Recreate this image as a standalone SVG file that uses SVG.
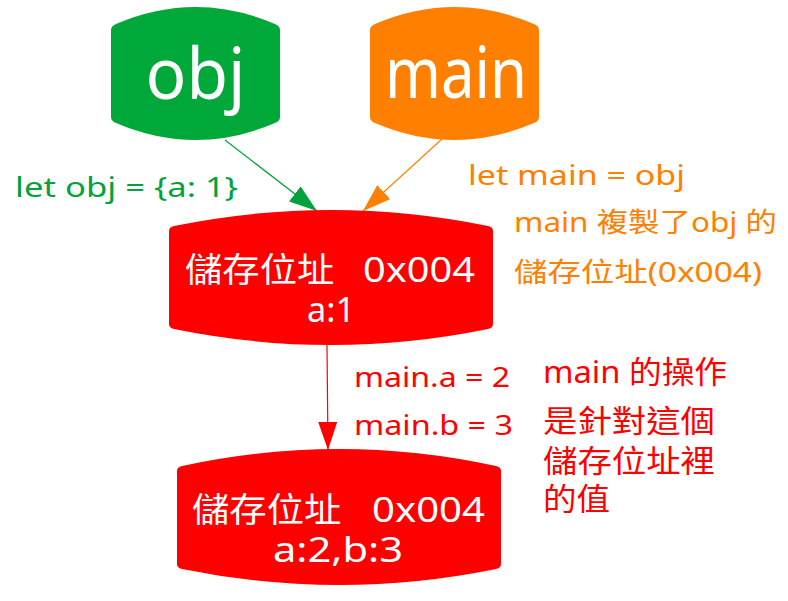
<svg xmlns="http://www.w3.org/2000/svg" width="788" height="601" viewBox="0 0 788 601">
<style>
.t{font-family:"Noto Sans","Noto Sans CJK TC",sans-serif;}
.w{fill:#ffffff;}
.g{fill:#00a33b;}
.o{fill:#ff8000;}
.r{fill:#ff0000;}
.e{fill:none;stroke-width:1.2;}
</style>
<defs>
<marker id="ag" markerUnits="userSpaceOnUse" markerWidth="30" markerHeight="20" refX="28" refY="9.5" orient="auto"><path d="M0,0 L28,9.5 L0,19 Z" fill="#00a33b"/></marker>
<marker id="ao" markerUnits="userSpaceOnUse" markerWidth="30" markerHeight="20" refX="28" refY="9.5" orient="auto"><path d="M0,0 L28,9.5 L0,19 Z" fill="#ff8000"/></marker>
<marker id="ar" markerUnits="userSpaceOnUse" markerWidth="30" markerHeight="20" refX="28" refY="9.5" orient="auto"><path d="M0,0 L28,9.5 L0,19 Z" fill="#ff0000"/></marker>
</defs>
<rect width="788" height="601" fill="#ffffff"/>
<g id="connectors">
<line class="e" x1="225" y1="140" x2="317" y2="211" stroke="#00a33b" marker-end="url(#ag)"/>
<line class="e" x1="442" y1="139" x2="363" y2="211" stroke="#ff8000" marker-end="url(#ao)"/>
<line class="e" x1="327" y1="345" x2="328" y2="450" stroke="#ff0000" marker-end="url(#ar)"/>
</g>
<g id="node-obj">
<path d="M111,30 Q111,26 116,24 Q195.5,-10 275,24 Q280,26 280,30 L280,117 Q280,121 275,123 Q195.5,157 116,123 Q111,121 111,117 Z" fill="#00a83a"/>
<text class="t w" x="195.5" y="99" font-size="72" text-anchor="middle" textLength="100" lengthAdjust="spacingAndGlyphs">obj</text>
</g>
<g id="node-main">
<path d="M370,30 Q370,26 375,24 Q454.5,-10 534,24 Q539,26 539,30 L539,117 Q539,121 534,123 Q454.5,157 375,123 Q370,121 370,117 Z" fill="#ff8000"/>
<text class="t w" x="456" y="98" font-size="72" text-anchor="middle" textLength="142" lengthAdjust="spacingAndGlyphs">main</text>
</g>
<g id="node-addr1">
<path d="M169,231 Q169,227 174,226 Q331,194 488,226 Q493,227 493,231 L493,324 Q493,328 488,329 Q331,361 174,329 Q169,328 169,324 Z" fill="#ff0000"/>
<text class="t w" font-size="34"><tspan x="185" y="282" textLength="159" lengthAdjust="spacingAndGlyphs">儲存位址 </tspan><tspan x="363" y="282" textLength="112" lengthAdjust="spacingAndGlyphs">0x004</tspan></text>
<text class="t w" x="331" y="322" font-size="34" text-anchor="middle" textLength="48" lengthAdjust="spacingAndGlyphs">a:1</text>
</g>
<g id="node-addr2">
<path d="M177,471 Q177,467 182,466 Q339,432 496,466 Q501,467 501,471 L501,564 Q501,568 496,569 Q339,601 182,569 Q177,568 177,564 Z" fill="#ff0000"/>
<text class="t w" font-size="34"><tspan x="192" y="522" textLength="159" lengthAdjust="spacingAndGlyphs">儲存位址 </tspan><tspan x="372" y="522" textLength="113" lengthAdjust="spacingAndGlyphs">0x004</tspan></text>
<text class="t w" x="338" y="562" font-size="34" text-anchor="middle" textLength="130" lengthAdjust="spacingAndGlyphs">a:2,b:3</text>
</g>
<g id="labels">
<text class="t g" x="15" y="197" font-size="28" textLength="223" lengthAdjust="spacingAndGlyphs">let obj = {a: 1}</text>
<text class="t o" x="468" y="185" font-size="28" textLength="217" lengthAdjust="spacingAndGlyphs">let main = obj</text>
<text class="t o" x="514" y="232" font-size="27" textLength="263" lengthAdjust="spacingAndGlyphs">main 複製了obj 的</text>
<text class="t o" x="514" y="282" font-size="27" textLength="248" lengthAdjust="spacingAndGlyphs">儲存位址(0x004)</text>
<text class="t r" x="354" y="387" font-size="28" textLength="156" lengthAdjust="spacingAndGlyphs">main.a = 2</text>
<text class="t r" x="354" y="435" font-size="28" textLength="159" lengthAdjust="spacingAndGlyphs">main.b = 3</text>
<text class="t r" x="543" y="383" font-size="31" textLength="184" lengthAdjust="spacingAndGlyphs">main 的操作</text>
<text class="t r" x="543" y="432" font-size="31" textLength="172" lengthAdjust="spacingAndGlyphs">是針對這個</text>
<text class="t r" x="543" y="472" font-size="31" textLength="172" lengthAdjust="spacingAndGlyphs">儲存位址裡</text>
<text class="t r" x="543" y="510" font-size="31" textLength="67" lengthAdjust="spacingAndGlyphs">的值</text>
</g>
</svg>
